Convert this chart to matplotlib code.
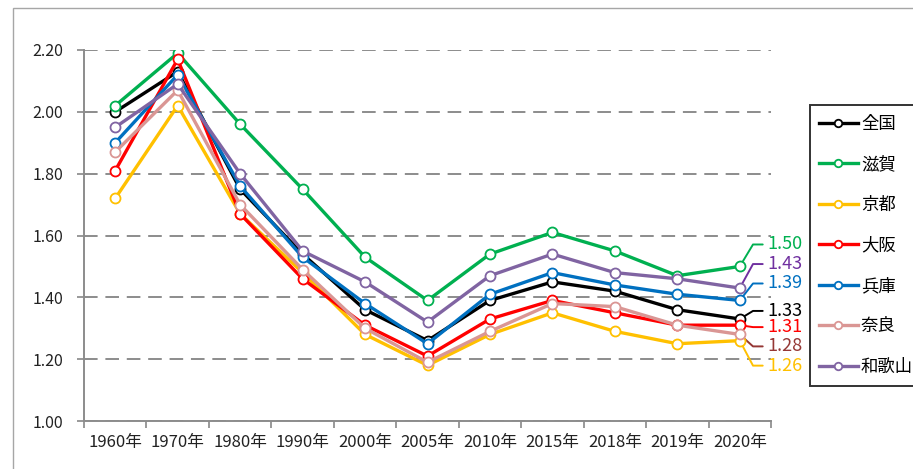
import math
import matplotlib
matplotlib.use('AGG')
import matplotlib.pyplot as plt
from matplotlib.patches import Rectangle

plt.rcParams['font.family'] = ['Noto Sans CJK JP', 'DejaVu Sans']

# 合計特殊出生率
years = ['1960年', '1970年', '1980年', '1990年', '2000年', '2005年',
         '2010年', '2015年', '2018年', '2019年', '2020年']
zenkoku = [2.00, 2.13, 1.75, 1.54, 1.36, 1.26, 1.39, 1.45, 1.42, 1.36, 1.33]
shiga = [2.02, 2.19, 1.96, 1.75, 1.53, 1.39, 1.54, 1.61, 1.55, 1.47, 1.50]
kyoto = [1.72, 2.02, 1.67, 1.48, 1.28, 1.18, 1.28, 1.35, 1.29, 1.25, 1.26]
osaka = [1.81, 2.17, 1.67, 1.46, 1.31, 1.21, 1.33, 1.39, 1.35, 1.31, 1.31]
hyogo = [1.90, 2.12, 1.76, 1.53, 1.38, 1.25, 1.41, 1.48, 1.44, 1.41, 1.39]
nara = [1.87, 2.07, 1.70, 1.49, 1.30, 1.19, 1.29, 1.38, 1.37, 1.31, 1.28]
wakayama = [1.95, 2.09, 1.80, 1.55, 1.45, 1.32, 1.47, 1.54, 1.48, 1.46, 1.43]

names = ['全国', '滋賀', '京都', '大阪', '兵庫', '奈良', '和歌山']
series = [zenkoku, shiga, kyoto, osaka, hyogo, nara, wakayama]
colors = ['#000000', '#00B050', '#FFC000', '#FF0000', '#0070C0', '#DA9694', '#8064A2']
label_colors = ['#000000', '#00B050', '#FFC000', '#FF0000', '#0070C0', '#953735', '#7030A0']
# label offsets (points) for the 2020 values
label_dy = [5.8, 15.8, -18.0, -1.4, 12.2, -8.6, 17.3]

fig = plt.figure(figsize=(9.13, 4.69), dpi=100)
ax = fig.add_axes([0.092, 0.1023, 0.7525, 0.7911])

# outer frame of the chart area
fig.patches.append(Rectangle((13 / 913, -0.1), 1.1, 1.1 - 8 / 469,
                             transform=fig.transFigure, fill=False,
                             edgecolor='#A6A6A6', lw=1.0))

x = list(range(len(years)))
for name, vals, c in zip(names, series, colors):
    ax.plot(x, vals, color=c, lw=2.4, marker='o', markersize=7.2,
            markerfacecolor='white', markeredgecolor=c, markeredgewidth=1.3,
            label=name, zorder=3)

for vals, lc, dy in zip(series, label_colors, label_dy):
    ang = math.degrees(math.atan2(dy, 9.5))
    ax.annotate(f'{vals[-1]:.2f}', xy=(x[-1], vals[-1]), xytext=(20, dy),
                textcoords='offset points', ha='left', va='center',
                color=lc, fontsize=13,
                arrowprops=dict(arrowstyle='-', color=lc, lw=1.4,
                                shrinkA=1.5, shrinkB=3, relpos=(0, 0.5),
                                connectionstyle=f'angle,angleA=0,angleB={ang},rad=0'),
                annotation_clip=False, zorder=2)

ax.set_ylim(1.00, 2.20)
ax.set_yticks([1.00, 1.20, 1.40, 1.60, 1.80, 2.00, 2.20])
ax.set_yticklabels([f'{v:.2f}' for v in ax.get_yticks()])
ax.set_xlim(-0.5, len(years) - 0.5)
ax.set_xticks(x)
ax.set_xticklabels(years)
ax.set_xticks([i - 0.5 for i in range(len(years) + 1)], minor=True)
ax.tick_params(axis='x', which='major', length=0, pad=9, labelsize=12, colors='#222222')
ax.tick_params(axis='x', which='minor', length=5, width=1.2, color='#888888')
ax.tick_params(axis='y', length=5, width=1.2, color='#888888', pad=10,
               labelsize=11.5, labelcolor='#222222')

ax.grid(axis='y', color='#8C8C8C', lw=1.4, ls=(0, (7, 4)))
ax.set_axisbelow(True)
for s in ['top', 'right']:
    ax.spines[s].set_visible(False)
for s in ['left', 'bottom']:
    ax.spines[s].set_color('#8C8C8C')
    ax.spines[s].set_linewidth(1.4)

leg = fig.legend(loc='upper left', bbox_to_anchor=(0.887, 0.192, 0.13, 0.584),
                 mode='expand', borderaxespad=0, fontsize=12.5, frameon=True,
                 fancybox=False, edgecolor='#000000', handlelength=2.2,
                 handletextpad=0.2, labelspacing=1.3, borderpad=0.55,
                 markerscale=0.75)
leg.get_frame().set_linewidth(1.4)

fig.savefig('out.png', dpi=100)
